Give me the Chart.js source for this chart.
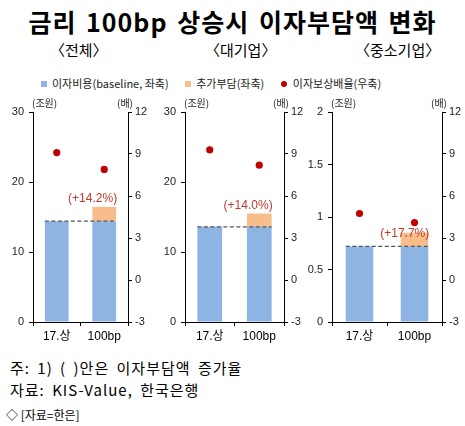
<!DOCTYPE html>
<html>
<head>
<meta charset="utf-8">
<script src="https://cdn.jsdelivr.net/npm/chart.js@4.4.0/dist/chart.umd.min.js"></script>
<style>
  html, body { margin: 0; padding: 0; background: #fff; }
  body { width: 465px; height: 426px; position: relative; overflow: hidden;
         font-family: "Liberation Sans", "Noto Sans CJK KR", sans-serif; color: #000; }
  .abs { position: absolute; white-space: nowrap; }
  #title { left: 0; width: 465px; top: 4px; text-align: center; font-size: 25px; font-weight: bold;
           font-family: "Noto Sans CJK KR", sans-serif; letter-spacing: 1px; word-spacing: 3px; line-height: 34px; }
  .sub { top: 39px; font-size: 15px; font-family: "Noto Sans CJK KR", sans-serif; line-height: 22px; }
  #legend { top: 75px; left: 41px; font-size: 11px; line-height: 16px; color: #222;
            font-family: "Noto Sans CJK KR", sans-serif; }
  #legend span.sw { display: inline-block; width: 6px; height: 6px; margin-right: 5px; vertical-align: 1px; }
  #legend span.dot { display: inline-block; width: 6px; height: 6px; border-radius: 50%; margin-right: 6px; vertical-align: 1px; }
  #legend span.item { margin-right: 14px; }
  .panel { position: absolute; top: 95px; height: 255px; }
  .note { left: 10px; font-size: 15px; font-family: "Noto Sans CJK KR", sans-serif; letter-spacing: 1px; word-spacing: 3px; line-height: 20px; }
</style>
</head>
<body>
<div id="title" class="abs">금리 100bp 상승시 이자부담액 변화</div>
<div class="abs sub" style="left:50px">〈전체〉</div>
<div class="abs sub" style="left:205px">〈대기업〉</div>
<div class="abs sub" style="left:355px">〈중소기업〉</div>
<div id="legend" class="abs">
  <span class="item"><span class="sw" style="background:#8db4e2"></span>이자비용(baseline, 좌축)</span>
  <span class="item"><span class="sw" style="background:#f7bd8a"></span>추가부담(좌축)</span>
  <span class="item"><span class="dot" style="background:#c00000"></span>이자보상배율(우축)</span>
</div>
<div class="panel" style="left:0px;width:155px"><canvas id="c0"></canvas></div>
<div class="panel" style="left:155px;width:150px"><canvas id="c1"></canvas></div>
<div class="panel" style="left:305px;width:160px"><canvas id="c2"></canvas></div>
<div class="abs note" style="top:358px">주: 1) ( )안은 이자부담액 증가율</div>
<div class="abs note" style="top:380px">자료: KIS-Value, 한국은행</div>
<div class="abs" style="left:6px;top:406px;font-size:12px;font-family:'Noto Sans CJK KR',sans-serif">◇ [자료=한은]</div>

<script>
const categories = ["17.상", "100bp"];

// 전체
const baseTotal = [14.4, 14.4];
const extraTotal = [0, 2.05];
const ratioTotal = [9.1, 7.9];
// 대기업
const baseLarge = [13.6, 13.6];
const extraLarge = [0, 1.9];
const ratioLarge = [9.3, 8.2];
// 중소기업
const baseSme = [0.72, 0.72];
const extraSme = [0, 0.13];
const ratioSme = [4.75, 4.1];

const increaseLabels = ["(+14.2%)", "(+14.0%)", "(+17.7%)"];

const leftTicks = [
  { max: 30, step: 10 },
  { max: 30, step: 10 },
  { max: 2, step: 0.5 }
];
const rightMin = -3, rightMax = 12, rightStep = 3;

const BLUE = "#8db4e2";
const ORANGE = "#f7bd8a";
const RED = "#c00000";
const tickFont = { family: "'Liberation Sans', 'Noto Sans CJK KR', sans-serif", size: 11 };

// per-panel layout: widths of left / right axes, label offset
const panels = [
  { id: "c0", base: baseTotal, extra: extraTotal, ratio: ratioTotal, left: 33, right: 27, labelDy: -8 },
  { id: "c1", base: baseLarge, extra: extraLarge, ratio: ratioLarge, left: 30, right: 21, labelDy: -8 },
  { id: "c2", base: baseSme, extra: extraSme, ratio: ratioSme, left: 27, right: 23, labelDy: 1 }
];

const overlay = {
  id: "overlay",
  afterDatasetsDraw(chart, args, opts) {
    const ctx = chart.ctx;
    const bars = chart.getDatasetMeta(0).data;
    const extraBars = chart.getDatasetMeta(1).data;
    const y = chart.scales.y;
    const base = chart.data.datasets[0].data;
    const extra = chart.data.datasets[1].data;
    // dashed baseline
    const yy = y.getPixelForValue(base[0]);
    const x1 = bars[0].x - bars[0].width / 2;
    const x2 = bars[1].x + bars[1].width / 2;
    ctx.save();
    ctx.strokeStyle = "#555";
    ctx.lineWidth = 1.3;
    ctx.setLineDash([4, 2.5]);
    ctx.beginPath();
    ctx.moveTo(x1, yy);
    ctx.lineTo(x2, yy);
    ctx.stroke();
    ctx.setLineDash([]);
    // increase label
    const top = y.getPixelForValue(base[1] + extra[1]);
    ctx.fillStyle = "#c0392b";
    ctx.font = "12px 'Liberation Sans', sans-serif";
    ctx.textAlign = "right";
    ctx.textBaseline = "middle";
    ctx.fillText(opts.label, extraBars[1].x + extraBars[1].width / 2 + 1, top + opts.dy);
    // unit titles
    const a = chart.chartArea;
    ctx.fillStyle = "#222";
    ctx.font = "10px 'Noto Sans CJK KR', sans-serif";
    ctx.textBaseline = "middle";
    ctx.textAlign = "left";
    ctx.fillText("(조원)", a.left - 1, a.top - 9);
    ctx.textAlign = "right";
    ctx.fillText("(배)", a.right + 5, a.top - 9);
    ctx.restore();
  }
};

panels.forEach((p, i) => {
  new Chart(document.getElementById(p.id), {
    type: "bar",
    data: {
      labels: categories,
      datasets: [
        { label: "이자비용(baseline, 좌축)", data: p.base, backgroundColor: BLUE, stack: "s", yAxisID: "y", order: 2,
          barPercentage: 1, categoryPercentage: 0.5 },
        { label: "추가부담(좌축)", data: p.extra, backgroundColor: ORANGE, stack: "s", yAxisID: "y", order: 2,
          barPercentage: 1, categoryPercentage: 0.5 },
        { label: "이자보상배율(우축)", type: "line", data: p.ratio, yAxisID: "y1", showLine: false, order: 0,
          pointRadius: 3.6, pointBackgroundColor: RED, pointBorderColor: RED, pointBorderWidth: 0 }
      ]
    },
    options: {
      responsive: true,
      maintainAspectRatio: false,
      animation: false,
      layout: { padding: { top: 17, left: 0, right: 0, bottom: 0 } },
      plugins: {
        legend: { display: false },
        tooltip: { enabled: false },
        overlay: { label: increaseLabels[i], dy: p.labelDy }
      },
      scales: {
        x: {
          stacked: true,
          offset: true,
          grid: { display: true, drawOnChartArea: false, drawTicks: true, tickLength: 4, color: "#000", offset: true },
          border: { display: true, color: "#000", width: 1 },
          ticks: { font: { family: tickFont.family, size: 12 }, color: "#000", padding: 3 },
          afterFit(scale) { scale.height = 28; }
        },
        y: {
          position: "left",
          stacked: true,
          min: 0,
          max: leftTicks[i].max,
          ticks: { stepSize: leftTicks[i].step, font: tickFont, color: "#222", padding: 5,
                   callback: (v) => String(v) },
          grid: { display: true, drawOnChartArea: false, drawTicks: true, tickLength: 4, color: "#000" },
          border: { display: true, color: "#000", width: 1 },
          afterFit(scale) { scale.width = p.left; }
        },
        y1: {
          position: "right",
          min: rightMin,
          max: rightMax,
          ticks: { stepSize: rightStep, font: tickFont, color: "#222", padding: 3,
                   callback: (v) => String(v) },
          grid: { display: true, drawOnChartArea: false, drawTicks: true, tickLength: 4, color: "#000" },
          border: { display: true, color: "#000", width: 1 },
          afterFit(scale) { scale.width = p.right; }
        }
      }
    },
    plugins: [overlay]
  });
});
</script>
</body>
</html>
